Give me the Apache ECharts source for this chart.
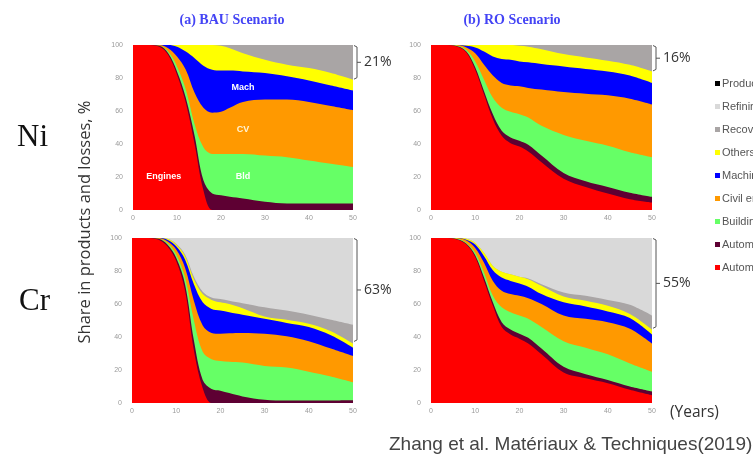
<!DOCTYPE html>
<html>
<head>
<meta charset="utf-8">
<script src="https://cdn.jsdelivr.net/npm/echarts@6/dist/echarts.min.js"></script>
<style>
  html, body { margin: 0; padding: 0; background: #fff; }
  #main { width: 753px; height: 456px; }
</style>
</head>
<body>
<div id="main"></div>
<script>
// years on the x axis (irregular sampling)
const YEARS = [0, 3, 6, 8, 10, 12, 14, 16, 18, 20, 22, 25, 30, 35, 40, 45, 50];
const TOTAL = [100, 100, 100, 100, 100, 100, 100, 100, 100, 100, 100, 100, 100, 100, 100, 100, 100];

// cumulative top of each layer, %  (Ni, BAU)
const NI_BAU_ENGINES   = [100, 100, 99, 94, 82, 65, 40, 12, 0, 0, 0, 0, 0, 0, 0, 0, 0];
const NI_BAU_AUTO      = [100, 100, 99.5, 95, 84, 68, 45, 18, 10, 9, 8, 7, 5, 4, 4, 4, 4];
const NI_BAU_BUILD     = [100, 100, 99.5, 96, 87, 73, 52, 38, 34, 34, 34, 34, 33, 32, 30, 28, 26];
const NI_BAU_CIVIL     = [100, 100, 100, 98, 93, 85, 71, 62, 59, 59.5, 62, 65.5, 67, 67, 65.5, 63, 60.5];
const NI_BAU_MACH      = [100, 100, 100, 100, 99, 96, 92, 87.5, 85, 84.5, 84.5, 84, 83, 81, 78.5, 75.5, 72.5];
const NI_BAU_OTHERS    = [100, 100, 100, 100, 100, 100, 100, 100, 100, 99.5, 98, 95, 91, 88, 86, 83, 79];
const NI_BAU_RECOVERY  = TOTAL;

// Ni, RO
const NI_RO_ENGINES    = [100, 100, 99, 95.5, 85, 70, 55, 45, 40.5, 38.5, 35.5, 29, 19, 14, 10, 6.5, 4.5];
const NI_RO_AUTO       = [100, 100, 99.3, 96, 86.5, 72, 58, 48, 44, 42, 39.5, 33, 22.5, 17.5, 14, 10.5, 8];
const NI_RO_BUILD      = [100, 100, 99.5, 97, 90, 79, 68, 62, 59.5, 58, 56, 51, 45.5, 42, 39, 35, 32];
const NI_RO_CIVIL      = [100, 100, 100, 98.5, 95, 88, 81.5, 77, 75.5, 75, 74, 73, 71.5, 70.5, 69.5, 67.5, 64];
const NI_RO_MACH       = [100, 100, 100, 99.5, 98.5, 96, 93, 91.5, 91, 90, 89.5, 88.5, 87, 85.5, 84, 81.5, 77];
const NI_RO_OTHERS     = [100, 100, 100, 100, 100, 100, 100, 100, 100, 99.5, 99, 97.5, 94.5, 92.5, 90.5, 88, 84];
const NI_RO_RECOVERY   = TOTAL;

// Cr, BAU
const CR_BAU_ENGINES   = [100, 100, 99, 95, 86, 68, 32, 9, 0, 0, 0, 0, 0, 0, 0, 0, 0];
const CR_BAU_AUTO      = [100, 100, 99.5, 96, 88, 72, 38, 14, 8.5, 7.5, 6, 4, 2, 1.5, 1.5, 1.5, 1.6];
const CR_BAU_BUILD     = [100, 100, 99.5, 97, 90, 76, 50, 31, 26.5, 25.5, 25, 24.5, 22.5, 21.5, 19, 16, 12.5];
const CR_BAU_CIVIL     = [100, 100, 100, 98, 93, 82, 62, 47, 42.5, 42, 42.3, 42.5, 42, 40.5, 37.5, 33, 28.5];
const CR_BAU_MACH      = [100, 100, 100, 99, 95, 87, 72, 61, 57, 56, 55, 53.5, 51, 48.5, 46, 41, 33.5];
const CR_BAU_OTHERS    = [100, 100, 100, 99.5, 96, 89, 75, 66, 62.5, 61, 60, 57.5, 52.5, 50.5, 48, 43.5, 36];
const CR_BAU_RECOVERY  = [100, 100, 100, 99.5, 96.5, 90, 76.5, 67.5, 64, 63, 62, 60.5, 58, 56, 53.5, 50.5, 47.5];

// Cr, RO
const CR_RO_ENGINES    = [100, 100, 99, 96, 88.5, 74, 59, 46, 41.5, 39, 36, 29.5, 18.5, 15, 12, 8, 4.7];
const CR_RO_AUTO       = [100, 100, 99.3, 96.5, 89.5, 76, 61, 49, 44.5, 42, 39.5, 33, 22, 17.5, 14, 10, 7];
const CR_RO_BUILD      = [100, 100, 99.5, 97, 91, 79, 65, 58, 55, 53, 51, 46, 37.5, 33.5, 29.5, 24, 19];
const CR_RO_CIVIL      = [100, 100, 100, 98.5, 94, 85, 74, 68, 66, 65, 63.5, 60, 53, 51, 49, 45, 36];
const CR_RO_MACH       = [100, 100, 100, 99, 96, 89, 80.5, 76, 74, 72.5, 70.5, 66, 61, 58.5, 55.5, 51.5, 41.5];
const CR_RO_OTHERS     = [100, 100, 100, 99.5, 97, 91, 83, 79.5, 78, 76.5, 75, 71, 64.5, 62, 59, 54, 44.5];
const CR_RO_RECOVERY   = [100, 100, 100, 99.5, 97, 91, 83, 79.5, 78, 76.5, 75.5, 72, 67, 65, 62.5, 59.5, 53];

// losses bracket at year 50
const GAP_BOTTOM = [79, 84, 37, 45];
const GAP_LABELS = ['21%', '16%', '63%', '55%'];

const NAMES = ['Production losses', 'Refining losses', 'Recovery losses', 'Others', 'Machinery',
  'Civil engineering', 'Buildings', 'Automotive (other)', 'Automotive (engines)'];
const COLORS = ['#000000', '#d9d9d9', '#a9a5a5', '#ffff00', '#0000ff', '#ff9900', '#66ff66', '#5e0033', '#ff0000'];

// top layer first, so lower layers paint over it
const panels = [
  [TOTAL, TOTAL, NI_BAU_RECOVERY, NI_BAU_OTHERS, NI_BAU_MACH, NI_BAU_CIVIL, NI_BAU_BUILD, NI_BAU_AUTO, NI_BAU_ENGINES],
  [TOTAL, TOTAL, NI_RO_RECOVERY, NI_RO_OTHERS, NI_RO_MACH, NI_RO_CIVIL, NI_RO_BUILD, NI_RO_AUTO, NI_RO_ENGINES],
  [TOTAL, TOTAL, CR_BAU_RECOVERY, CR_BAU_OTHERS, CR_BAU_MACH, CR_BAU_CIVIL, CR_BAU_BUILD, CR_BAU_AUTO, CR_BAU_ENGINES],
  [TOTAL, TOTAL, CR_RO_RECOVERY, CR_RO_OTHERS, CR_RO_MACH, CR_RO_CIVIL, CR_RO_BUILD, CR_RO_AUTO, CR_RO_ENGINES],
];

const grids = [
  { left: 133, top: 45, width: 220, height: 165 },
  { left: 431, top: 45, width: 221, height: 165 },
  { left: 132, top: 238, width: 221, height: 165 },
  { left: 431, top: 238, width: 221, height: 165 },
];

const axisLabel = { fontSize: 7, color: '#9a9a9a', fontFamily: 'Arial, Liberation Sans' };

const xAxis = grids.map((g, i) => ({
  type: 'value', gridIndex: i, min: 0, max: 50, interval: 10,
  axisLine: { show: false }, axisTick: { show: false }, splitLine: { show: false },
  axisLabel: Object.assign({ margin: 5 }, axisLabel),
}));
const yAxis = grids.map((g, i) => ({
  type: 'value', gridIndex: i, min: 0, max: 100, interval: 20,
  axisLine: { show: false }, axisTick: { show: false }, splitLine: { show: false },
  axisLabel: Object.assign({ margin: 10 }, axisLabel),
}));

const series = [];
panels.forEach((layers, p) => {
  layers.forEach((vals, k) => {
    series.push({
      name: NAMES[k],
      type: 'line',
      xAxisIndex: p,
      yAxisIndex: p,
      data: YEARS.map((y, j) => [y, vals[j]]),
      smooth: 0.35,
      showSymbol: false,
      silent: true,
      lineStyle: { width: 0 },
      itemStyle: { color: COLORS[k] },
      areaStyle: { color: COLORS[k], opacity: 1 },
    });
  });
});

const chart = echarts.init(document.getElementById('main'), null, { renderer: 'canvas' });

const serif = '"Liberation Serif", "Times New Roman", serif';
const staticGraphics = [
  { type: 'text', x: 232, y: 20, style: { text: '(a) BAU Scenario', font: 'bold 14px ' + serif, fill: '#4444f5', align: 'center', verticalAlign: 'middle' } },
  { type: 'text', x: 512, y: 20, style: { text: '(b) RO Scenario', font: 'bold 14px ' + serif, fill: '#4444f5', align: 'center', verticalAlign: 'middle' } },
  { type: 'text', x: 17, y: 138, style: { text: 'Ni', font: '31px ' + serif, fill: '#111', verticalAlign: 'middle' } },
  { type: 'text', x: 19, y: 302, style: { text: 'Cr', font: '31px ' + serif, fill: '#111', verticalAlign: 'middle' } },
  { type: 'text', x: 85, y: 222, rotation: Math.PI / 2,
    style: { text: 'Share in products and losses, %', font: '16.5px "Open Sans", sans-serif', fill: '#333', align: 'center', verticalAlign: 'middle' } },
  { type: 'text', x: 670, y: 413, style: { text: '(Years)', font: '15.5px "Open Sans", sans-serif', fill: '#333', verticalAlign: 'middle' } },
  { type: 'text', x: 389, y: 445, style: { text: 'Zhang et al. Matériaux & Techniques(2019)', font: '19px "Liberation Sans", Arial', fill: '#444', verticalAlign: 'middle' } },
];

chart.setOption({
  animation: false,
  backgroundColor: '#fff',
  grid: grids,
  xAxis: xAxis,
  yAxis: yAxis,
  legend: {
    data: NAMES,
    orient: 'vertical',
    left: 710,
    top: 73,
    itemWidth: 5,
    itemHeight: 5,
    itemGap: 12,
    icon: 'rect',
    selectedMode: false,
    textStyle: { fontSize: 11, color: '#555', fontFamily: 'Liberation Sans, Arial', padding: [0, 0, 0, -3] },
  },
  series: series,
  graphic: staticGraphics,
});

// brackets + in-panel labels, placed through the axes
const extra = [];
GAP_BOTTOM.forEach((bottom, i) => {
  const top = chart.convertToPixel({ gridIndex: i }, [50, 100]);
  const bot = chart.convertToPixel({ gridIndex: i }, [50, bottom]);
  const x = top[0] + 4;
  const mid = (top[1] + bot[1]) / 2;
  extra.push({
    type: 'polyline',
    shape: { points: [[x - 3, top[1] + 0.5], [x, top[1] + 2], [x, bot[1] - 2], [x - 3, bot[1] - 0.5]] },
    style: { stroke: '#555', lineWidth: 1, fill: null },
  });
  extra.push({ type: 'line', shape: { x1: x, y1: mid, x2: x + 4, y2: mid }, style: { stroke: '#555', lineWidth: 1 } });
  extra.push({
    type: 'text', x: x + 7, y: mid,
    style: { text: GAP_LABELS[i], font: '14px "Open Sans", sans-serif', fill: '#333', verticalAlign: 'middle' },
  });
});

// in-panel labels of the Ni / BAU panel: [text, year, share]
const PANEL_TEXT = [['Mach', 25, 74], ['CV', 25, 48.5], ['Engines', 7, 20], ['Bld', 25, 20]];
PANEL_TEXT.forEach(([t, yr, v]) => {
  const pt = chart.convertToPixel({ gridIndex: 0 }, [yr, v]);
  extra.push({
    type: 'text', x: pt[0], y: pt[1], z: 100,
    style: { text: t, font: 'bold 9px "Liberation Sans", Arial', fill: t === 'CV' ? '#fff4d6' : '#fff', align: 'center', verticalAlign: 'middle' },
  });
});

chart.setOption({ graphic: staticGraphics.concat(extra) });
</script>
</body>
</html>
